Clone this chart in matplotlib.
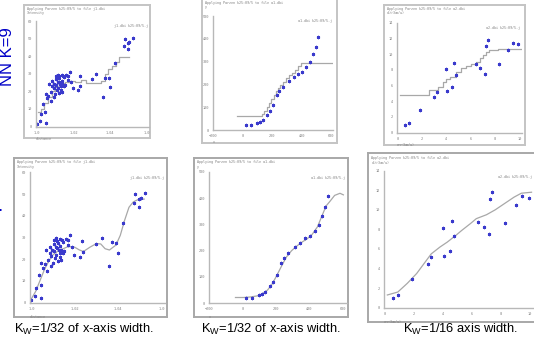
import numpy as np
import matplotlib
matplotlib.use("Agg")
import matplotlib.pyplot as plt

W, H = 534, 343

# ---- data: j1.dbi (left column) ----
j1_x = [0.00, 0.08, 0.10, 0.17, 0.22, 0.23, 0.23, 0.27, 0.31, 0.33, 0.38, 0.37, 0.42,
        0.42, 0.46, 0.46, 0.47, 0.50, 0.52, 0.53, 0.53, 0.55, 0.56, 0.57, 0.57, 0.60,
        0.60, 0.61, 0.61, 0.63, 0.65, 0.65, 0.67, 0.67, 0.69, 0.70, 0.69, 0.73, 0.73,
        0.76, 0.80, 0.84, 0.84, 0.89, 0.94, 0.99, 1.12, 1.16, 1.18, 1.49, 1.62, 1.79,
        1.85, 1.96, 2.00, 2.12, 2.37, 2.40, 2.48, 2.49, 2.61, 2.52]
j1_y = [1.2, 3.0, 6.8, 12.5, 7.9, 2.0, 18.2, 16.0, 17.5, 24.3, 19.8, 14.4, 25.8,
        22.8, 21.6, 16.7, 24.3, 18.2, 28.9, 26.9, 23.6, 20.5, 25.5, 29.6, 22.0, 28.6,
        25.1, 19.0, 27.4, 24.3, 22.8, 21.0, 26.1, 29.5, 24.3, 28.9, 19.8, 28.0, 22.8,
        23.6, 29.2, 28.9, 26.6, 31.3, 25.5, 21.7, 21.0, 28.6, 23.1, 26.9, 29.8, 16.9,
        27.8, 27.5, 22.6, 36.5, 45.9, 50.2, 47.9, 44.1, 50.6, 48.3]
j1_nn_x = [0.02, 0.1, 0.2, 0.3, 0.4, 0.5, 0.6, 0.75, 0.9, 1.05, 1.2, 1.35, 1.5, 1.65,
           1.75, 1.85, 1.95, 2.05, 2.15, 2.25, 2.5]
j1_nn_y = [8, 10, 13, 17, 20, 22.5, 25, 25.5, 26, 25.5, 26.5, 24.8, 24.5, 25, 26, 30,
           32.5, 34.5, 37, 39.5, 39.5]
j1_pz_x = [0.0, 0.1, 0.2, 0.3, 0.4, 0.5, 0.6, 0.7, 0.85, 1.0, 1.1, 1.2, 1.35, 1.5, 1.6,
           1.7, 1.8, 1.95, 2.05, 2.15, 2.25, 2.35, 2.45, 2.6]
j1_pz_y = [1.5, 5, 10, 15, 19, 22, 23.5, 24.5, 25.8, 25.5, 24.3, 23.5, 25.5, 27.2, 27.0,
           24.8, 24.2, 26.5, 31, 38, 44, 46.5, 47.5, 47.8]
j1_xticks = [0, 1, 2, 3]
j1_xlabels = ["1.0", "1.02", "1.04", "1.0"]
j1_yticks = [0, 10, 20, 30, 40, 50, 60]

# ---- data: a1.dbi (middle column) ----
a1_x = [21, 55, 97, 116, 137, 167, 184, 203, 230, 248, 274, 314, 345, 374, 404, 430,
        456, 477, 493, 512]
a1_y = [22, 22, 32, 35, 44, 66, 82, 108, 152, 171, 190, 215, 231, 247, 256, 276, 298,
        332, 365, 406]
a1_nn_x = [-36, 128, 148, 164, 179, 194, 210, 225, 240, 256, 271, 292, 312, 333, 353,
           374, 394, 609]
a1_nn_y = [60, 68, 85, 100, 118, 135, 155, 170, 185, 198, 212, 226, 240, 252, 265, 280,
           295, 295]
a1_pz_x = [-42, 5, 46, 87, 118, 149, 174, 200, 232, 261, 293, 325, 354, 386, 416, 447,
           473, 499, 519, 550, 582, 602]
a1_pz_y = [22, 22, 24, 28, 36, 50, 70, 100, 140, 175, 200, 218, 232, 245, 262, 290, 330,
           370, 385, 410, 418, 412]
a1_xticks = [-200, 0, 200, 400, 600]
a1_yticks = [0, 100, 200, 300, 400, 500]

# ---- data: a2.dbi (right column) ----
a2_x = [0.6, 0.93, 1.87, 3.0, 3.2, 4.0, 4.1, 4.5, 4.66, 4.8, 6.42, 6.8, 7.16, 7.23,
        7.41, 8.3, 9.06, 9.45, 9.9]
a2_y = [0.95, 1.28, 2.93, 4.48, 5.2, 8.1, 5.33, 5.78, 8.9, 7.3, 8.72, 8.2, 7.5, 11.06,
        11.86, 8.7, 10.5, 11.4, 11.25]
a2_nn_x = [0.16, 2.61, 3.34, 3.7, 3.97, 4.29, 4.84, 5.24, 5.65, 6.06, 6.47, 6.74, 7.01,
           7.28, 7.5, 8.23, 10.22]
a2_nn_y = [4.8, 5.4, 5.8, 6.5, 6.8, 7.1, 7.75, 8.2, 8.5, 8.8, 9.0, 9.45, 9.9, 10.3,
           10.5, 10.6, 10.6]
a2_pz_x = [0.18, 0.9, 1.56, 2.2, 2.8, 3.2, 3.8, 4.3, 4.9, 5.3, 5.9, 6.3, 7.0, 7.6, 8.2,
           8.9, 9.4, 10.1]
a2_pz_y = [1.3, 1.6, 2.5, 3.5, 4.7, 5.5, 6.2, 6.7, 7.4, 7.9, 8.6, 9.1, 9.5, 10.0, 10.6,
           11.3, 11.7, 11.8]
a2_xticks = [0, 2, 4, 6, 8, 10]
a2_yticks = [0, 2, 4, 6, 8, 10, 12, 14]

captions = ["K$_\\mathregular{W}$=1/32 of x-axis width.",
            "K$_\\mathregular{W}$=1/32 of x-axis width.",
            "K$_\\mathregular{W}$=1/16 axis width."]

plt.rcParams['font.family'] = ['Liberation Sans', 'DejaVu Sans']
fig = plt.figure(figsize=(W / 100, H / 100), dpi=100)
fig.patch.set_facecolor('white')


def rect(x0, y0, x1, y1):
    # pixel box (top-left origin) -> figure fraction
    return [x0 / W, 1 - y1 / H, (x1 - x0) / W, (y1 - y0) / H]


mono = 'DejaVu Sans Mono'
tcol = '#808080'


def panel(frame, inner, xs, ys, cx, cy, step, xlim, ylim, xticks, yticks,
          title, legend, ylab, xlab, xticklabels=None, fcol='#c4c4c4'):
    fa = fig.add_axes(rect(*frame))
    fa.set_xticks([])
    fa.set_yticks([])
    fa.set_xlim(0, 1)
    fa.set_ylim(0, 1)
    for s in fa.spines.values():
        s.set_color(fcol)
        s.set_linewidth(1.4)
    fa.text(0.02, 0.985, title, fontsize=2.4, family=mono, color=tcol, va='top')
    fa.text(0.02, 0.955, ylab, fontsize=2.4, family=mono, color=tcol, va='top')

    ax = fig.add_axes(rect(*inner))
    ax.patch.set_alpha(0)
    ax.plot(cx, cy, color='#a8a8a8', lw=0.9,
            drawstyle='steps-post' if step else 'default')
    ax.plot(xs, ys, ls='none', marker=(6, 2, 0), ms=2.4, mew=0.7, color='#3a3acc')
    ax.set_xlim(*xlim)
    ax.set_ylim(*ylim)
    ax.set_xticks(xticks)
    if xticklabels is not None:
        ax.set_xticklabels(xticklabels)
    ax.set_yticks(yticks)
    ax.tick_params(length=0, labelsize=2.6, labelcolor=tcol, pad=3)
    for lab in ax.get_xticklabels() + ax.get_yticklabels():
        lab.set_family(mono)
    for side in ('top', 'right'):
        ax.spines[side].set_visible(False)
    for side in ('left', 'bottom'):
        ax.spines[side].set_color('#b8b8b8')
        ax.spines[side].set_linewidth(1.0)
    ax.text(0.99, 0.97, legend, transform=ax.transAxes, fontsize=2.4, family=mono,
            color=tcol, ha='right', va='top')
    ax.text(0.0, -0.09, xlab, transform=ax.transAxes, fontsize=2.4, family=mono,
            color=tcol, ha='left', va='top')
    return ax


# top row: NN K=9
panel((24, 5, 150, 138), (36, 20.7, 149, 127), j1_x, j1_y, j1_nn_x, j1_nn_y, True,
      (-0.03, 3.06), (-0.5, 60.5), j1_xticks, j1_yticks,
      "Applying Parzen k25:09/5 to file j1.dbi", "j1.dbi k25:09/5.j", "Intensity",
      "distance", xticklabels=j1_xlabels)
panel((202, -1, 337, 143), (213, 16, 333, 130), a1_x, a1_y, a1_nn_x, a1_nn_y, True,
      (-200, 611), (0, 500), a1_xticks, a1_yticks,
      "Applying Parzen k25:09/5 to file a1.dbi", "a1.dbi k25:09/5.j", "y", "x")
panel((384, 5, 525, 145), (397, 22.7, 521.7, 132.7), a2_x, a2_y, a2_nn_x, a2_nn_y, True,
      (-0.05, 10.2), (0, 14), a2_xticks, a2_yticks,
      "Applying Parzen k25:09/5 to file a2.dbi", "a2.dbi k25:09/5.j", "alt(km/u)",
      "err(km/u)")

# bottom row: Parzen windows
panel((14, 158, 167, 317), (30, 171.7, 165, 303.3), j1_x, j1_y, j1_pz_x, j1_pz_y, False,
      (-0.03, 3.08), (-0.5, 60.5), j1_xticks, j1_yticks,
      "Applying Parzen k25:09/5 to file j1.dbi", "j1.dbi k25:09/5.j", "Intensity",
      "distance", xticklabels=j1_xlabels, fcol='#a8a8a8')
panel((194, 158, 348, 317), (209, 171.7, 346.7, 303.3), a1_x, a1_y, a1_pz_x, a1_pz_y, False,
      (-200, 622), (0, 500), a1_xticks, a1_yticks,
      "Applying Parzen k25:09/5 to file a1.dbi", "a1.dbi k25:09/5.j", "y", "x",
      fcol='#a8a8a8')
panel((368, 153, 540, 322), (384, 170.7, 534, 307.7), a2_x, a2_y, a2_pz_x, a2_pz_y, False,
      (-0.05, 10.27), (0, 14), a2_xticks, a2_yticks,
      "Applying Parzen k25:09/5 to file a2.dbi", "a2.dbi k25:09/5.j", "alt(km/u)",
      "err(km/u)", fcol='#a8a8a8')

# side labels and captions
fig.text(8 / W, 1 - 57 / H, "NN K=9", rotation=90, fontsize=12, color='#0000c8',
         ha='center', va='center')
fig.text(0.5 / W, 1 - 210 / H, "\u25aa", fontsize=6, color='#0000c8',
         ha='center', va='center')
for cxp, txt in zip([84, 271, 460], captions):
    fig.text(cxp / W, 1 - 329 / H, txt, fontsize=9.3, color='black',
             ha='center', va='center')

fig.savefig("out.png", dpi=100, facecolor='white')
